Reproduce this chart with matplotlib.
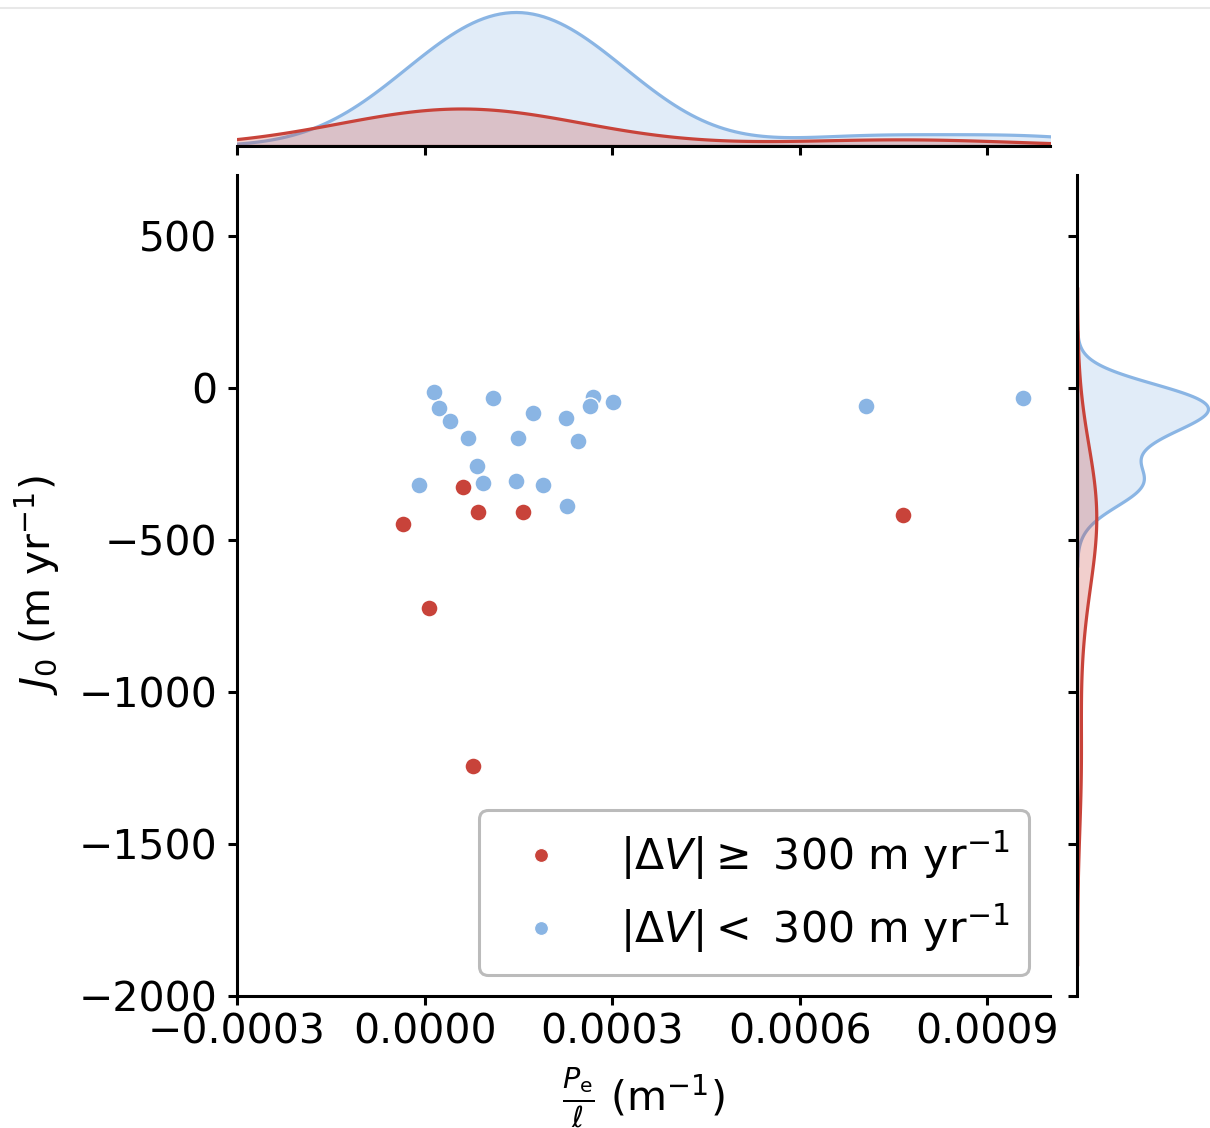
import numpy as np
import pandas as pd
import matplotlib
matplotlib.use("Agg")
import matplotlib.pyplot as plt
from matplotlib.lines import Line2D
import seaborn as sns

# ---- data ----
blue_x = [1.44e-5, 2.24e-5, 4.0e-5, 1.09e-4, 1.73e-4, 2.26e-4, 2.70e-4, 2.64e-4, 3.01e-4,
          7.0e-5, 1.49e-4, 2.46e-4, 8.3e-5, -9.6e-6, 9.4e-5, 1.46e-4, 1.89e-4, 2.27e-4,
          7.06e-4, 9.57e-4]
blue_y = [-13, -66, -109, -33, -82, -99, -30, -59, -46,
          -164, -164, -174, -257, -319, -312, -306, -319, -388,
          -59, -33]
red_x = [6.1e-5, 8.6e-5, 1.57e-4, -3.5e-5, 6.4e-6, 7.7e-5, 7.65e-4]
red_y = [-326, -408, -408, -447, -724, -1243, -418]

label_hi = r'$|\Delta V| \geq$ 300 m yr$^{-1}$'
label_lo = r'$|\Delta V| <$ 300 m yr$^{-1}$'
hue_order = [label_hi, label_lo]
red = '#c8433a'
blue = '#8ab5e4'
palette = {label_hi: red, label_lo: blue}

x_ticks = [-0.0003, 0.0, 0.0003, 0.0006, 0.0009]
y_ticks = [500, 0, -500, -1000, -1500, -2000]

df = pd.DataFrame({
    'x': red_x + blue_x,
    'y': red_y + blue_y,
    'g': [label_hi] * len(red_x) + [label_lo] * len(blue_x),
})

plt.rcParams['font.family'] = ['DejaVu Sans']
plt.rcParams['font.size'] = 29.5
plt.rcParams['mathtext.fontset'] = 'dejavusans'

W, H = 1210, 1128
fig = plt.figure(figsize=(W / 100, H / 100), dpi=100)

def fx(px):
    return px / W

def fy(py):
    return 1 - py / H

L, R, T, B = 237, 1050, 175, 996
ax = fig.add_axes([fx(L), fy(B), fx(R) - fx(L), fy(T) - fy(B)])
axx = fig.add_axes([fx(L), fy(146), fx(R) - fx(L), fy(0) - fy(146)], sharex=ax)
axy = fig.add_axes([fx(1077), fy(B), fx(1210) - fx(1077), fy(T) - fy(B)], sharey=ax)

lw = 2.2
for a in (ax, axx, axy):
    for s in a.spines.values():
        s.set_linewidth(lw)
    a.tick_params(width=lw, length=6.5)
ax.tick_params(axis='y', pad=7.5)
ax.tick_params(axis='x', pad=5.5)

# scatter
for g in hue_order:
    d = df[df.g == g]
    ax.scatter(d.x, d.y, s=150, color=palette[g], edgecolor='white', linewidth=1.0, zorder=3)

# marginals
sns.kdeplot(data=df, x='x', hue='g', hue_order=hue_order, palette=palette, fill=True,
            common_norm=True, ax=axx, legend=False, linewidth=2.3)
sns.kdeplot(data=df, y='y', hue='g', hue_order=hue_order, palette=palette, fill=True,
            common_norm=True, ax=axy, legend=False, linewidth=2.3)

ax.set_xlim(-0.0003, 0.0010)
ax.set_ylim(-2000, 700)
ax.set_xticks(x_ticks)
ax.set_yticks(y_ticks)
ax.set_xticklabels(['%.4f' % v if v >= 0 else '\u2212%.4f' % abs(v) for v in x_ticks])
ax.set_xlim(-0.0003, 0.0010)

# scale marginal heights
ymax = axx.dataLim.y1
axx.set_ylim(0, ymax * 146 / 134)
xmax = axy.dataLim.x1
axy.set_xlim(0, xmax * 133 / 131)

ax.spines['top'].set_visible(False)
ax.spines['right'].set_visible(False)
for s in ('left', 'top', 'right'):
    axx.spines[s].set_visible(False)
for s in ('bottom', 'top', 'right'):
    axy.spines[s].set_visible(False)
axx.tick_params(axis='x', labelbottom=False)
axx.tick_params(axis='y', left=False, labelleft=False)
axy.tick_params(axis='y', labelleft=False)
axy.tick_params(axis='x', bottom=False, labelbottom=False)
axx.set_xlabel('')
axx.set_ylabel('')
axy.set_xlabel('')
axy.set_ylabel('')

ax.set_xlabel(r'$\frac{P_\mathrm{e}}{\ell}$ (m$^{-1}$)', labelpad=9)
ax.set_ylabel(r'$J_0$ (m yr$^{-1}$)', labelpad=12)

handles = [Line2D([], [], marker='o', linestyle='', color=palette[g], markeredgecolor='white',
                  markeredgewidth=0.8, markersize=10) for g in hue_order]
leg = ax.legend(handles, hue_order, loc='lower right', fontsize=30.7, frameon=True,
                borderpad=0.45, handlelength=2.0, handletextpad=0.85)
leg.get_frame().set_linewidth(2.2)
leg.get_frame().set_edgecolor('#aaaaaa')

fig.add_artist(Line2D([0, 1], [fy(8), fy(8)], color='#e8e8e8', linewidth=1.5))

fig.savefig('out.png', dpi=100)
